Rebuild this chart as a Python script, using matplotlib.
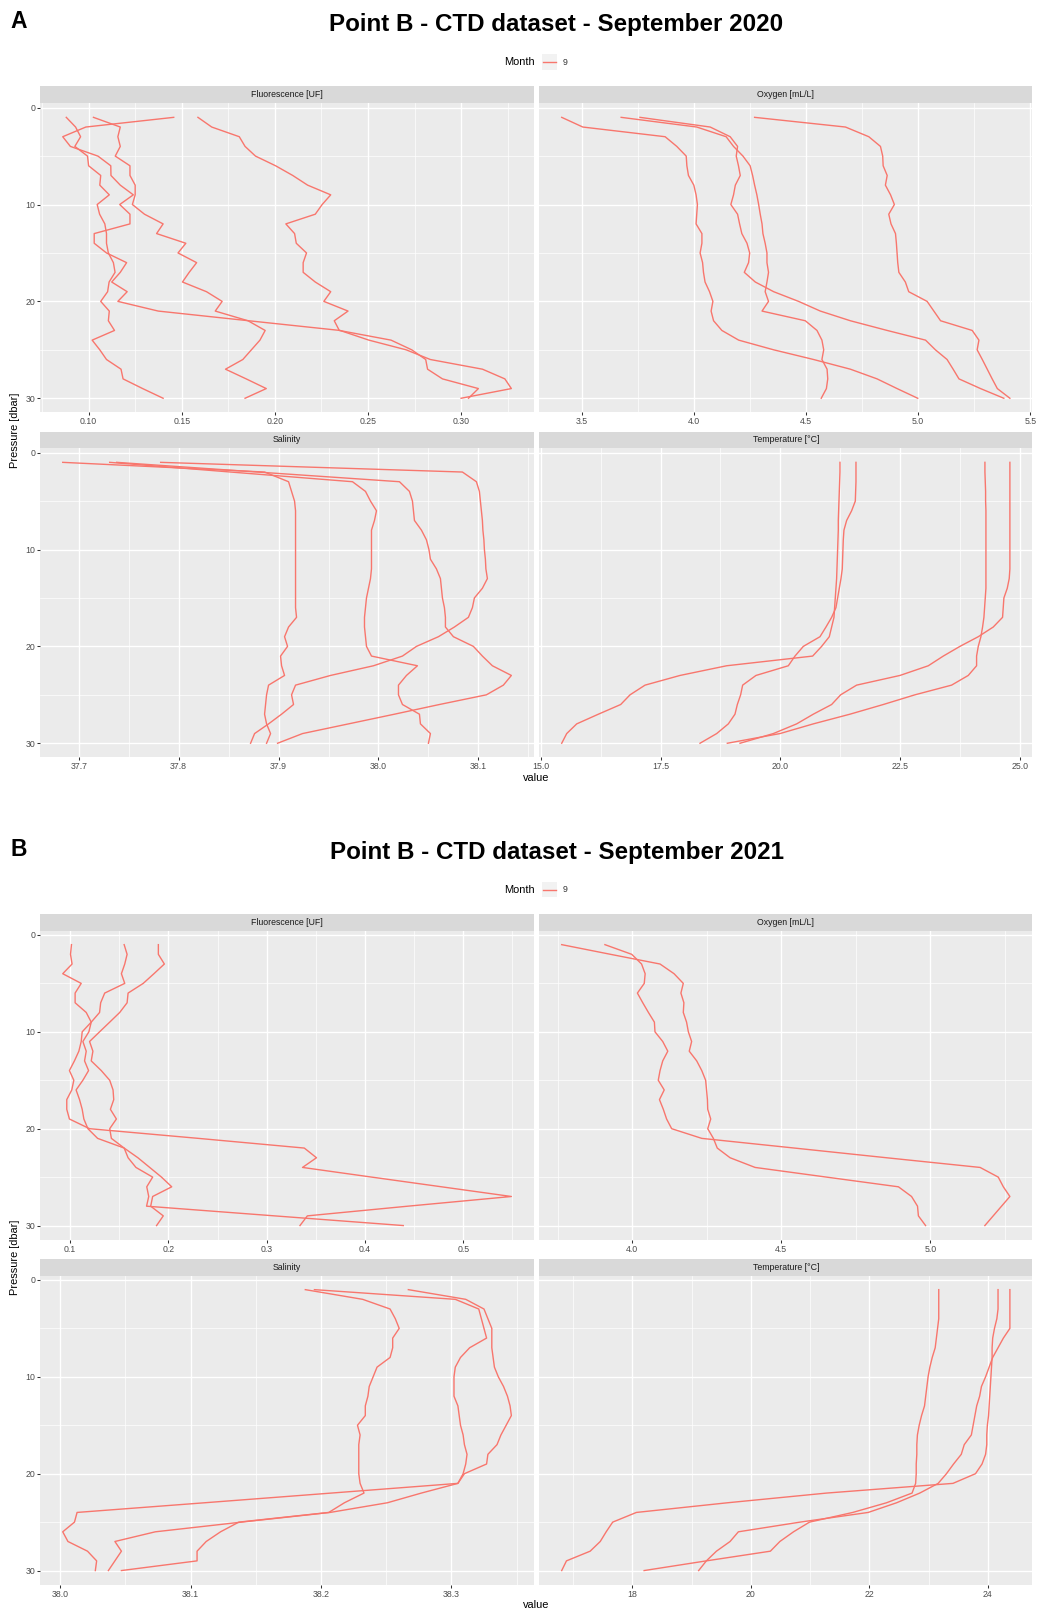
import matplotlib
matplotlib.use('Agg')
import matplotlib.pyplot as plt
from matplotlib.patches import Rectangle
from matplotlib.lines import Line2D
from matplotlib.ticker import MultipleLocator, FormatStrFormatter

plt.rcParams['font.family'] = ['Liberation Sans', 'DejaVu Sans']

# depth bins [dbar], same grid for every cast
pressure = [1, 2, 3, 4, 5, 6, 7, 8, 9, 10, 11, 12, 13, 14, 15,
            16, 17, 18, 19, 20, 21, 22, 23, 24, 25, 26, 27, 28, 29, 30]

# ---- September 2020 : four casts ----
fluo_2020 = [
    [0.088, 0.093, 0.0957, 0.0926, 0.0994, 0.100, 0.1065, 0.106, 0.1111, 0.1046,
     0.1059, 0.1087, 0.1096, 0.1096, 0.1106, 0.1133, 0.1142, 0.111, 0.1102, 0.1065,
     0.1111, 0.1106, 0.1139, 0.1019, 0.106, 0.1096, 0.1174, 0.1185, 0.129, 0.140],
    [0.1026, 0.117, 0.1157, 0.117, 0.1143, 0.1222, 0.1222, 0.125, 0.125, 0.1235,
     0.130, 0.140, 0.1365, 0.1522, 0.148, 0.158, 0.154, 0.1504, 0.1633, 0.1717,
     0.168, 0.1856, 0.1948, 0.192, 0.1874, 0.1828, 0.1735, 0.1846, 0.1954, 0.184],
    [0.1457, 0.0985, 0.0861, 0.0902, 0.105, 0.1119, 0.112, 0.117, 0.124, 0.1167,
     0.1222, 0.1222, 0.103, 0.103, 0.1096, 0.1204, 0.117, 0.1124, 0.1207, 0.1157,
     0.1374, 0.186, 0.235, 0.2505, 0.2705, 0.2835, 0.3115, 0.3235, 0.327, 0.300],
    [0.1587, 0.1661, 0.1809, 0.184, 0.1896, 0.2004, 0.2096, 0.2176, 0.230, 0.2254,
     0.2217, 0.2059, 0.2106, 0.2115, 0.217, 0.2152, 0.2152, 0.2217, 0.230, 0.2263,
     0.2393, 0.2319, 0.2346, 0.2624, 0.2735, 0.281, 0.282, 0.290, 0.3093, 0.304],
]
oxy_2020 = [
    [3.411, 3.505, 3.872, 3.924, 3.966, 3.969, 3.976, 4.000, 4.010, 4.016,
     4.013, 4.010, 4.036, 4.036, 4.028, 4.039, 4.043, 4.050, 4.070, 4.085,
     4.077, 4.088, 4.125, 4.200, 4.356, 4.534, 4.698, 4.817, 4.906, 4.998],
    [3.760, 4.073, 4.162, 4.195, 4.189, 4.199, 4.207, 4.185, 4.177, 4.165,
     4.195, 4.204, 4.214, 4.237, 4.249, 4.244, 4.225, 4.274, 4.356, 4.467,
     4.564, 4.698, 4.862, 5.033, 5.077, 5.129, 5.156, 5.182, 5.278, 5.382],
    [3.676, 4.013, 4.144, 4.177, 4.219, 4.251, 4.262, 4.271, 4.281, 4.289,
     4.296, 4.304, 4.308, 4.318, 4.326, 4.326, 4.333, 4.326, 4.318, 4.333,
     4.304, 4.497, 4.549, 4.571, 4.579, 4.571, 4.594, 4.597, 4.591, 4.568],
    [4.271, 4.676, 4.780, 4.832, 4.842, 4.844, 4.862, 4.854, 4.877, 4.894,
     4.869, 4.879, 4.899, 4.903, 4.906, 4.909, 4.914, 4.943, 4.958, 5.040,
     5.070, 5.100, 5.241, 5.271, 5.263, 5.286, 5.308, 5.330, 5.353, 5.409],
]
sal_2020 = [
    [37.684, 37.886, 37.910, 37.913, 37.916, 37.917, 37.917, 37.917, 37.917, 37.917,
     37.917, 37.917, 37.917, 37.917, 37.917, 37.917, 37.918, 37.910, 37.906, 37.909,
     37.902, 37.903, 37.906, 37.890, 37.888, 37.887, 37.886, 37.888, 37.892, 37.888],
    [37.731, 37.852, 37.974, 37.987, 37.992, 37.998, 37.996, 37.993, 37.993, 37.993,
     37.993, 37.993, 37.992, 37.990, 37.988, 37.987, 37.986, 37.986, 37.987, 37.988,
     37.993, 38.039, 38.028, 38.020, 38.020, 38.024, 38.041, 38.042, 38.052, 38.050],
    [37.738, 37.879, 38.021, 38.031, 38.034, 38.035, 38.036, 38.043, 38.048, 38.0505,
     38.052, 38.058, 38.062, 38.063, 38.064, 38.066, 38.067, 38.067, 38.075, 38.095,
     38.104, 38.114, 38.133, 38.125, 38.108, 38.061, 38.016, 37.970, 37.924, 37.899],
    [37.782, 38.084, 38.098, 38.101, 38.102, 38.103, 38.104, 38.1045, 38.1055, 38.106,
     38.107, 38.1075, 38.109, 38.104, 38.096, 38.094, 38.090, 38.076, 38.060, 38.038,
     38.024, 37.995, 37.952, 37.917, 37.913, 37.915, 37.903, 37.890, 37.876, 37.872],
]
temp_2020 = [
    [21.245, 21.245, 21.238, 21.231, 21.224, 21.217, 21.210, 21.210, 21.203, 21.196,
     21.189, 21.182, 21.175, 21.161, 21.147, 21.133, 21.120, 21.071, 21.022, 20.862,
     20.675, 18.880, 17.907, 17.177, 16.864, 16.669, 16.203, 15.751, 15.542, 15.438],
    [21.579, 21.579, 21.579, 21.572, 21.565, 21.488, 21.384, 21.328, 21.314, 21.307,
     21.300, 21.293, 21.266, 21.231, 21.196, 21.161, 21.071, 20.953, 20.828, 20.480,
     20.306, 20.167, 19.492, 19.214, 19.172, 19.103, 19.054, 18.915, 18.672, 18.324],
    [24.270, 24.270, 24.277, 24.284, 24.284, 24.291, 24.291, 24.291, 24.291, 24.291,
     24.291, 24.291, 24.291, 24.291, 24.277, 24.263, 24.249, 24.221, 24.186, 24.131,
     24.096, 24.096, 23.922, 23.574, 22.809, 22.149, 21.453, 20.688, 19.993, 18.894],
    [24.791, 24.791, 24.791, 24.791, 24.791, 24.791, 24.791, 24.791, 24.791, 24.791,
     24.791, 24.791, 24.777, 24.736, 24.666, 24.652, 24.638, 24.444, 24.131, 23.748,
     23.401, 23.088, 22.497, 21.592, 21.259, 21.071, 20.688, 20.341, 19.854, 19.159],
]

# ---- September 2021 ----
fluo_2021 = [
    [0.1014, 0.1004, 0.1020, 0.0925, 0.1113, 0.1051, 0.1051, 0.1164, 0.1215, 0.1123,
     0.1113, 0.1089, 0.1044, 0.0993, 0.1038, 0.1017, 0.0966, 0.0966, 0.0993, 0.1198,
     0.2306, 0.3383, 0.3507, 0.3365, 0.407, 0.478, 0.549, 0.4437, 0.3414, 0.3339],
    [0.155, 0.158, 0.1556, 0.1522, 0.1556, 0.1352, 0.1311, 0.130, 0.1215, 0.1191,
     0.113, 0.1164, 0.1147, 0.1188, 0.113, 0.1061, 0.1096, 0.1123, 0.114, 0.1181,
     0.128, 0.155, 0.159, 0.167, 0.184, 0.178, 0.180, 0.1778, 0.308, 0.439],
    [0.1898, 0.1898, 0.1959, 0.1853, 0.1744, 0.159, 0.158, 0.1505, 0.1403, 0.130,
     0.1198, 0.1232, 0.1215, 0.1317, 0.1403, 0.1437, 0.1444, 0.141, 0.1471, 0.1403,
     0.142, 0.155, 0.169, 0.181, 0.193, 0.2034, 0.184, 0.182, 0.1948, 0.188],
]
oxy_2021 = [
    [3.763, 3.927, 4.093, 4.140, 4.171, 4.163, 4.173, 4.171, 4.182, 4.188,
     4.199, 4.191, 4.216, 4.233, 4.246, 4.249, 4.252, 4.253, 4.263, 4.253,
     4.272, 4.285, 4.328, 4.412, 4.652, 4.893, 4.937, 4.957, 4.960, 4.984],
    [3.908, 3.998, 4.031, 4.043, 4.040, 4.017, 4.035, 4.054, 4.074, 4.076,
     4.102, 4.119, 4.102, 4.093, 4.087, 4.107, 4.091, 4.104, 4.115, 4.132,
     4.233, 4.544, 4.853, 5.167, 5.228, 5.245, 5.267, 5.239, 5.211, 5.183],
]
sal_2021 = [
    [38.188, 38.232, 38.253, 38.257, 38.260, 38.255, 38.255, 38.253, 38.243, 38.240,
     38.237, 38.236, 38.234, 38.234, 38.228, 38.230, 38.229, 38.229, 38.229, 38.229,
     38.230, 38.233, 38.218, 38.206, 38.137, 38.123, 38.112, 38.105, 38.105, 38.047],
    [38.195, 38.303, 38.321, 38.323, 38.325, 38.327, 38.314, 38.307, 38.303, 38.302,
     38.302, 38.302, 38.305, 38.306, 38.307, 38.309, 38.310, 38.312, 38.311, 38.309,
     38.305, 38.277, 38.251, 38.207, 38.139, 38.073, 38.042, 38.047, 38.042, 38.037],
    [38.267, 38.311, 38.325, 38.328, 38.331, 38.331, 38.331, 38.332, 38.333, 38.336,
     38.340, 38.343, 38.345, 38.346, 38.342, 38.338, 38.335, 38.328, 38.327, 38.310,
     38.305, 38.208, 38.111, 38.013, 38.011, 38.002, 38.006, 38.021, 38.028, 38.027],
]
temp_2021 = [
    [23.17, 23.17, 23.17, 23.17, 23.15, 23.13, 23.11, 23.06, 23.02, 22.99,
     22.97, 22.95, 22.93, 22.88, 22.84, 22.81, 22.80, 22.80, 22.79, 22.79,
     22.78, 22.72, 22.29, 21.72, 20.99, 20.72, 20.49, 20.33, 19.25, 18.20],
    [24.17, 24.17, 24.17, 24.15, 24.11, 24.08, 24.07, 24.07, 24.06, 24.05,
     24.04, 24.03, 24.02, 24.01, 23.99, 23.98, 23.98, 23.96, 23.90, 23.79,
     23.41, 21.28, 19.61, 18.07, 17.67, 17.56, 17.46, 17.29, 16.89, 16.81],
    [24.37, 24.37, 24.37, 24.37, 24.37, 24.26, 24.17, 24.08, 24.02, 23.96,
     23.89, 23.86, 23.81, 23.78, 23.75, 23.72, 23.60, 23.55, 23.42, 23.30,
     23.16, 22.85, 22.46, 21.98, 20.83, 19.79, 19.65, 19.42, 19.25, 19.12],
]

facet_names = ['Fluorescence [UF]', 'Oxygen [mL/L]', 'Salinity', 'Temperature [\u00b0C]']

RED = '#F8766D'
W, H = 1037, 1611
fig = plt.figure(figsize=(W / 100, H / 100), dpi=100)


def rect(x0, y0, x1, y1):
    # pixel box (top-left origin) -> figure fraction
    return [x0 / W, 1 - y1 / H, (x1 - x0) / W, (y1 - y0) / H]


cols = [(40.3, 533.8), (539.3, 1032.3)]
rows = [(86.3, 103.3, 412.3), (431.5, 448.3, 757.3)]  # strip top, panel top, panel bottom


def draw_block(dy, letter, title, panels):
    fig.text(10 / W, 1 - (28.5 + dy) / H, letter, fontsize=16.5, fontweight='bold', va='baseline')
    fig.text(556.5 / W, 1 - (31.5 + dy) / H, title, fontsize=17.4, fontweight='bold',
             ha='center', va='baseline')

    # legend: Month  [key] 9
    ly = 62.3 + dy
    fig.text(535 / W, 1 - ly / H, 'Month', fontsize=7.9, ha='right', va='center')
    fig.add_artist(Rectangle((541.7 / W, 1 - 70 / H - dy / H), 15.6 / W, 15.7 / H,
                             transform=fig.transFigure, facecolor='#F2F2F2', edgecolor='none'))
    fig.add_artist(Line2D([543.3 / W, 556 / W], [1 - ly / H, 1 - ly / H],
                          transform=fig.transFigure, color=RED, lw=1.0))
    fig.text(562.7 / W, 1 - ly / H, '9', fontsize=6.3, ha='left', va='center', color='#333333')

    for i, (name, profiles, step, fmt) in enumerate(panels):
        r, c = divmod(i, 2)
        x0, x1 = cols[c]
        s0, p0, p1 = [v + dy for v in rows[r]]
        ax = fig.add_axes(rect(x0, p0, x1, p1))
        ax.set_facecolor('#EBEBEB')
        for prof in profiles:
            ax.plot(prof, pressure, color=RED, lw=1.0)

        lo = min(min(p) for p in profiles)
        hi = max(max(p) for p in profiles)
        pad = 0.05 * (hi - lo)
        ax.set_xlim(lo - pad, hi + pad)
        ypad = 0.05 * (max(pressure) - min(pressure))
        ax.set_ylim(max(pressure) + ypad, min(pressure) - ypad)

        ax.xaxis.set_major_locator(MultipleLocator(step))
        ax.xaxis.set_minor_locator(MultipleLocator(step / 2))
        ax.xaxis.set_major_formatter(FormatStrFormatter(fmt))
        ax.yaxis.set_major_locator(MultipleLocator(10))
        ax.yaxis.set_minor_locator(MultipleLocator(5))

        ax.set_axisbelow(True)
        ax.grid(which='major', color='white', lw=1.0)
        ax.grid(which='minor', color='white', lw=0.5)
        for sp in ax.spines.values():
            sp.set_visible(False)
        ax.tick_params(which='major', length=1.95, width=0.75, color='#333333',
                       labelsize=6.3, labelcolor='#4D4D4D', pad=1.6)
        ax.tick_params(which='minor', length=0)
        if c == 1:
            ax.tick_params(axis='y', left=False, labelleft=False)

        # facet strip
        fig.add_artist(Rectangle((x0 / W, 1 - p0 / H), (x1 - x0) / W, (p0 - s0) / H,
                                 transform=fig.transFigure, facecolor='#D9D9D9', edgecolor='none'))
        fig.text((x0 + x1) / 2 / W, 1 - (s0 + p0) / 2 / H, name, fontsize=6.3,
                 color='#1A1A1A', ha='center', va='center')

    fig.text(15.5 / W, 1 - (430.3 + dy) / H, 'Pressure [dbar]', fontsize=7.9,
             rotation=90, ha='center', va='center')
    fig.text(536 / W, 1 - (777.7 + dy) / H, 'value', fontsize=7.9, ha='center', va='center')


panels_2020 = [
    (facet_names[0], fluo_2020, 0.05, '%.2f'),
    (facet_names[1], oxy_2020, 0.5, '%.1f'),
    (facet_names[2], sal_2020, 0.1, '%.1f'),
    (facet_names[3], temp_2020, 2.5, '%.1f'),
]
panels_2021 = [
    (facet_names[0], fluo_2021, 0.1, '%.1f'),
    (facet_names[1], oxy_2021, 0.5, '%.1f'),
    (facet_names[2], sal_2021, 0.1, '%.1f'),
    (facet_names[3], temp_2021, 2, '%d'),
]

draw_block(0, 'A', 'Point B - CTD dataset - September 2020', panels_2020)
draw_block(827.3, 'B', 'Point B - CTD dataset - September 2021', panels_2021)

fig.savefig('out.png', dpi=100)
